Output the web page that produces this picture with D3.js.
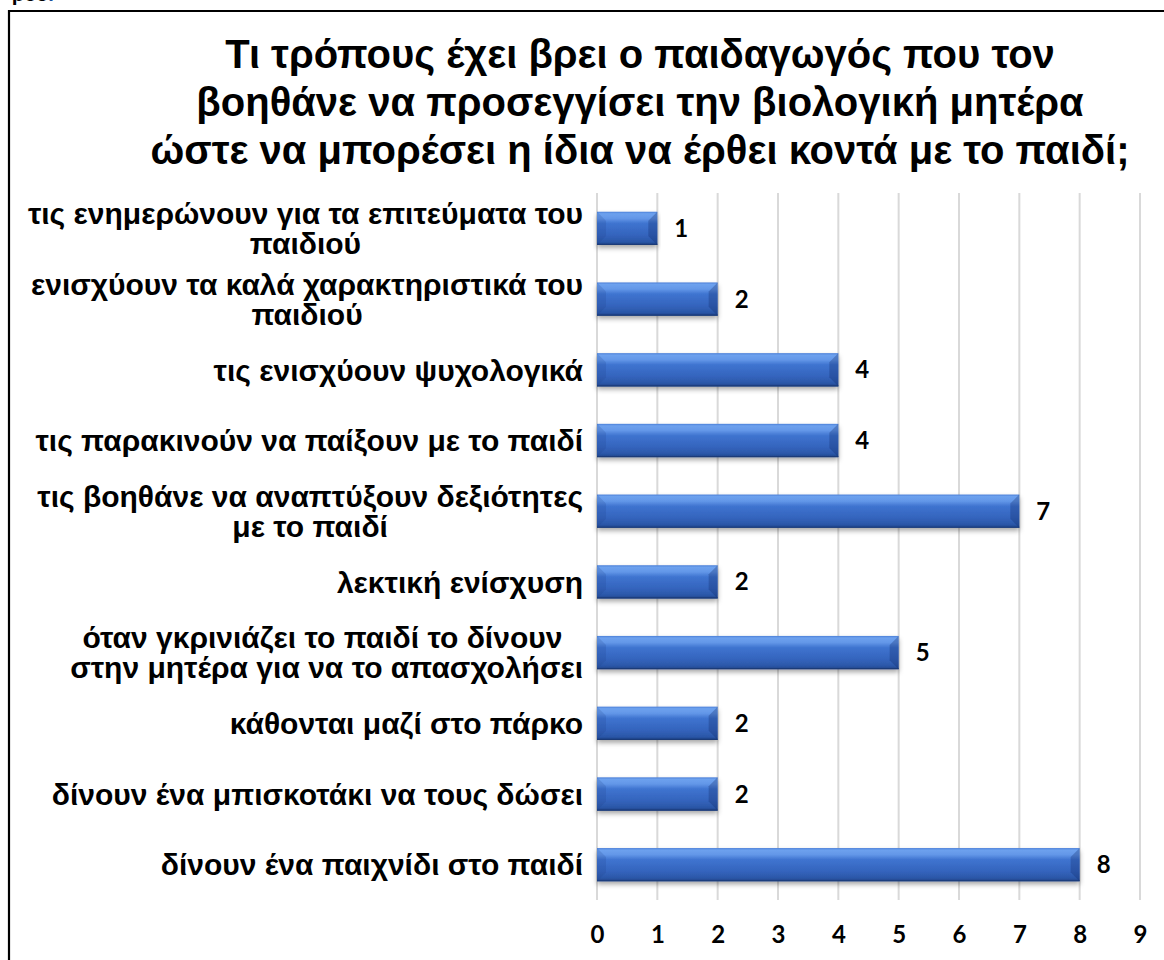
<!DOCTYPE html>
<html>
<head>
<meta charset="utf-8">
<script src="https://cdn.jsdelivr.net/npm/d3@7"></script>
<style>
  html, body { margin: 0; padding: 0; background: #fff; }
  svg { display: block; }
</style>
</head>
<body>
<svg id="chart" width="1164" height="960"></svg>
<script>
// ---- data ----
const titleLines = [
  "Τι τρόπους έχει βρει ο παιδαγωγός που τον",
  "βοηθάνε να προσεγγίσει την βιολογική μητέρα",
  "ώστε να μπορέσει η ίδια να έρθει κοντά με το παιδί;"
];
const categories = [
  ["τις ενημερώνουν για τα επιτεύματα του", "παιδιού"],
  ["ενισχύουν τα καλά χαρακτηριστικά του", "παιδιού"],
  ["τις ενισχύουν ψυχολογικά"],
  ["τις παρακινούν να παίξουν με το παιδί"],
  ["τις βοηθάνε να αναπτύξουν δεξιότητες", "με το παιδί"],
  ["λεκτική ενίσχυση"],
  ["όταν γκρινιάζει το παιδί το δίνουν ", "στην μητέρα για να το απασχολήσει"],
  ["κάθονται μαζί στο πάρκο"],
  ["δίνουν ένα μπισκοτάκι να τους δώσει"],
  ["δίνουν ένα παιχνίδι στο παιδί"]
];
const values = [1, 2, 4, 4, 7, 2, 5, 2, 2, 8];
const xTicks = [0, 1, 2, 3, 4, 5, 6, 7, 8, 9];

// ---- layout ----
const svg = d3.select("#chart");
const plot = { left: 597, right: 1140, top: 193, bottom: 900 };
const labelRight = 583;

const x = d3.scaleLinear().domain([0, 9]).range([plot.left, plot.right]);
const ids = categories.map((d, i) => i);
const y = d3.scaleBand().domain(ids).range([plot.top, plot.bottom])
  .paddingInner(0.53).paddingOuter(0.265);

// defs
const defs = svg.append("defs");
const g = defs.append("linearGradient").attr("id", "barGrad")
  .attr("x1", 0).attr("y1", 0).attr("x2", 0).attr("y2", 1);
[[0, "#4c80d8"], [0.06, "#6da1ee"], [0.2, "#6397e8"], [0.35, "#3f74d0"],
 [0.7, "#3464bd"], [0.9, "#2b57a8"], [1, "#1f4388"]]
  .forEach(([o, c]) => g.append("stop").attr("offset", o).attr("stop-color", c));
const f = defs.append("filter").attr("id", "shadow")
  .attr("x", "-5%").attr("y", "-30%").attr("width", "110%").attr("height", "180%");
f.append("feDropShadow").attr("dx", 0).attr("dy", 3).attr("stdDeviation", 2.5)
  .attr("flood-color", "#000").attr("flood-opacity", 0.35);

// cut-off text at top-left (as in the reference)
const frag = svg.append("text").attr("x", 12).attr("y", 1)
  .attr("font-family", "Liberation Sans, Arial, sans-serif")
  .attr("font-weight", "bold").attr("font-size", 20);
frag.append("tspan").attr("fill", "#000").text("ρου");
frag.append("tspan").attr("fill", "#1f4e9a").text(".");

// border
svg.append("path").attr("d", "M9,960 V11 H1164")
  .attr("fill", "none").attr("stroke", "#000").attr("stroke-width", 2.2);

// title
svg.append("g").selectAll("text").data(titleLines).join("text")
  .attr("x", 640).attr("y", (d, i) => 68 + i * 48)
  .attr("text-anchor", "middle")
  .attr("font-family", "Liberation Sans, Arial, sans-serif")
  .attr("font-weight", "bold").attr("font-size", 40)
  .attr("fill", "#000").text(d => d);

// gridlines
svg.append("g").selectAll("line").data(xTicks).join("line")
  .attr("x1", d => x(d)).attr("x2", d => x(d))
  .attr("y1", plot.top).attr("y2", plot.bottom)
  .attr("stroke", "#d9d9d9").attr("stroke-width", 2);

// x axis labels
const xAxis = d3.axisBottom(x).tickValues(xTicks).tickSize(0).tickPadding(0);
const ax = svg.append("g").attr("transform", `translate(0,${plot.bottom})`).call(xAxis);
ax.select(".domain").remove();
ax.selectAll("text")
  .attr("y", 0).attr("dy", 0)
  .attr("transform", "translate(0,43)")
  .attr("font-family", "Lato, Carlito, sans-serif")
  .attr("font-weight", "bold").attr("font-size", 24).attr("fill", "#000");

// bars
const bars = svg.append("g").selectAll("g").data(values).join("g");
bars.append("rect")
  .attr("x", x(0)).attr("y", (d, i) => y(i))
  .attr("width", d => x(d) - x(0)).attr("height", y.bandwidth())
  .attr("fill", "url(#barGrad)").attr("filter", "url(#shadow)");
const bev = 9;
bars.append("path")
  .attr("d", (d, i) => {
    const x0 = x(0), y0 = y(i), y1 = y(i) + y.bandwidth();
    return `M${x0},${y0} L${x0 + bev},${y0 + bev} L${x0 + bev},${y1 - bev} L${x0},${y1} Z`;
  })
  .attr("fill", "#1d3f85").attr("opacity", 0.18);
bars.append("path")
  .attr("d", (d, i) => {
    const x1 = x(d), y0 = y(i), y1 = y(i) + y.bandwidth();
    return `M${x1},${y0} L${x1 - bev},${y0 + bev} L${x1 - bev},${y1 - bev} L${x1},${y1} Z`;
  })
  .attr("fill", "#0f2c6b").attr("opacity", 0.3);
bars.append("line")
  .attr("x1", x(0)).attr("x2", d => x(d))
  .attr("y1", (d, i) => y(i) + y.bandwidth() - 0.5)
  .attr("y2", (d, i) => y(i) + y.bandwidth() - 0.5)
  .attr("stroke", "#1b3b78").attr("stroke-width", 1.2);

// value labels
svg.append("g").selectAll("text").data(values).join("text")
  .attr("x", d => x(d) + 17).attr("y", (d, i) => y(i) + y.bandwidth() / 2)
  .attr("dy", "0.36em")
  .attr("font-family", "Lato, Carlito, sans-serif")
  .attr("font-weight", "bold").attr("font-size", 24).attr("fill", "#000")
  .text(d => d);

// category labels
const lineH = 30;
const cat = svg.append("g").selectAll("g").data(categories).join("g");
cat.each(function (lines, i) {
  const gg = d3.select(this);
  const cy = y(i) + y.bandwidth() / 2;
  const ts = gg.selectAll("text").data(lines).join("text")
    .attr("font-family", "Liberation Sans, Arial, sans-serif")
    .attr("font-weight", "bold").attr("font-size", 30).attr("fill", "#000")
    .attr("xml:space", "preserve")
    .style("white-space", "pre")
    .text(d => d);
  let maxW = 0;
  ts.each(function () { maxW = Math.max(maxW, this.getComputedTextLength()); });
  const n = lines.length;
  ts.attr("text-anchor", "middle")
    .attr("x", labelRight - maxW / 2)
    .attr("y", (d, j) => cy + (j - (n - 1) / 2) * lineH)
    .attr("dy", "0.36em");
});
</script>
</body>
</html>
